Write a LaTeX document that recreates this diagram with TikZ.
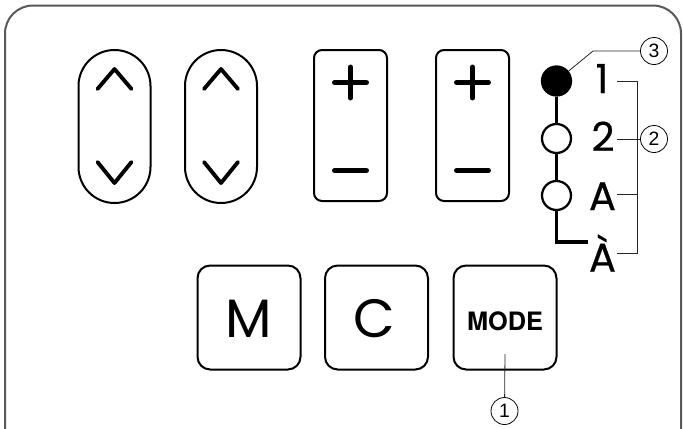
\documentclass[tikz,border=0pt]{standalone}
\usepackage{fontspec}
\setmainfont{Poppins}
\newfontfamily\lblfont{Poppins}[FakeBold=0.5,UprightFeatures={FakeBold=0.5}]
\newfontfamily\modefont{TeX Gyre Heros}
\newfontfamily\calloutfont{Liberation Sans}
\usetikzlibrary{arrows.meta, positioning}

\begin{document}
\begin{tikzpicture}[x=0.75pt,y=0.75pt,yscale=-1,xscale=1,
  oval/.style={draw, line width=1.5pt, rounded corners=27pt, minimum width=54pt, minimum height=114.75pt, inner sep=0pt},
  pmkey/.style={draw, line width=1.5pt, rounded corners=6pt, minimum width=54.75pt, minimum height=113.25pt, inner sep=0pt},
  sqkey/.style={draw, line width=1.5pt, rounded corners=9.5pt, minimum width=77.25pt, minimum height=78pt, inner sep=0pt},
  lamp/.style={circle, draw, line width=1.7pt, minimum size=21.75pt, inner sep=0pt},
  callout/.style={circle, draw, line width=0.6pt, minimum size=20.25pt, inner sep=0pt, font=\calloutfont\fontsize{14.5pt}{14.5pt}\selectfont},
  lbl/.style={anchor=base, inner sep=0pt, font=\lblfont\fontsize{30pt}{30pt}\selectfont},
  keytxt/.style={anchor=base, inner sep=0pt, font=\fontsize{40.5pt}{40.5pt}\selectfont},
  caret/.style={line width=2.9pt, line cap=round, line join=round},
  sign/.style={line width=3.7pt, line cap=round},
  leader/.style={line width=0.6pt, color=black!85}]
\useasboundingbox (0,0) rectangle (683,429);

%Shape: Frame
\draw [line width=1.5pt, color=black!65, rounded corners=21pt] (5,429) -- (5,5.5) -- (681,5.5) -- (681,429) ;

%Shape: Up/Down keys
\node [oval] (ud1) at (114.5,126.5) {};
\node [oval] (ud2) at (221,126.5) {};
\foreach \cx in {114.5,221} {
  \draw [caret] (\cx-17,89) -- (\cx,69) -- (\cx+17,89) ;
  \draw [caret] (\cx-17,162) -- (\cx,183) -- (\cx+17,162) ;
}

%Shape: Plus/Minus keys
\node [pmkey] (pm1) at (350.5,125.5) {};
\node [pmkey] (pm2) at (472.5,125.5) {};
\foreach \cx in {350.5,472.5} {
  \draw [sign] (\cx-16,82.5) -- (\cx+16,82.5) ;
  \draw [sign] (\cx,67) -- (\cx,98) ;
  \draw [sign] (\cx-16,170.5) -- (\cx+16,170.5) ;
}

%Shape: M, C, MODE keys
\node [sqkey] (keyM) at (249,317.5) {};
\node [sqkey] (keyC) at (376.5,317.5) {};
\node [sqkey] (keyMode) at (505,317.5) {};
\node [keytxt] (txtM) at (249,337.5) {M};
\node [keytxt] (txtC) at (374.5,337.5) {C};
\node [anchor=base, inner sep=0pt, font=\modefont\bfseries\fontsize{19pt}{19pt}\selectfont] (txtMode) at (505,330) {MODE};

%Shape: Indicator lamps
\node [lamp, fill=black] (lamp1) at (556.5,81) {};
\node [lamp] (lamp2) at (556.5,138.5) {};
\node [lamp] (lamp3) at (556.5,195.5) {};
\coordinate (lampEnd) at (588,242) ;
\draw [line width=2.3pt] (lamp1) -- (lamp2) ;
\draw [line width=2.3pt] (lamp2) -- (lamp3) ;
\draw [line width=2.3pt] (lamp3.south) |- (lampEnd) ;

%Text: lamp labels
\node [lbl] (lbl1) at (602,93) {1};
\node [lbl] (lbl2) at (603,151) {2};
\node [lbl] (lblA) at (602.5,210) {A};
\node [lbl] (lblAg) at (602.5,271.5) {À};

%Straight Lines: bracket
\coordinate (br1) at (617,81.5) ;
\coordinate (br2) at (617,139) ;
\coordinate (br3) at (617,194.5) ;
\coordinate (br4) at (617,253) ;
\draw [leader] (br1) -- ++(20,0) -- ++(0,171.5) -- (br4) ;
\draw [leader] (br3) -- ++(20,0) ;

%Callouts
\node [callout] (c1) at (504.5,411) {1};
\node [callout] (c2) at (654,139) {2};
\node [callout] (c3) at (654,51) {3};
\coordinate (modeTip) at (505,354) ;
\coordinate (c3Knee) at (593,51) ;
\draw [leader] (modeTip) -- (c1) ;
\draw [leader] (br2) -- (c2) ;
\draw [leader] (c3) -- (c3Knee) -- (lamp1) ;

\end{tikzpicture}
\end{document}
